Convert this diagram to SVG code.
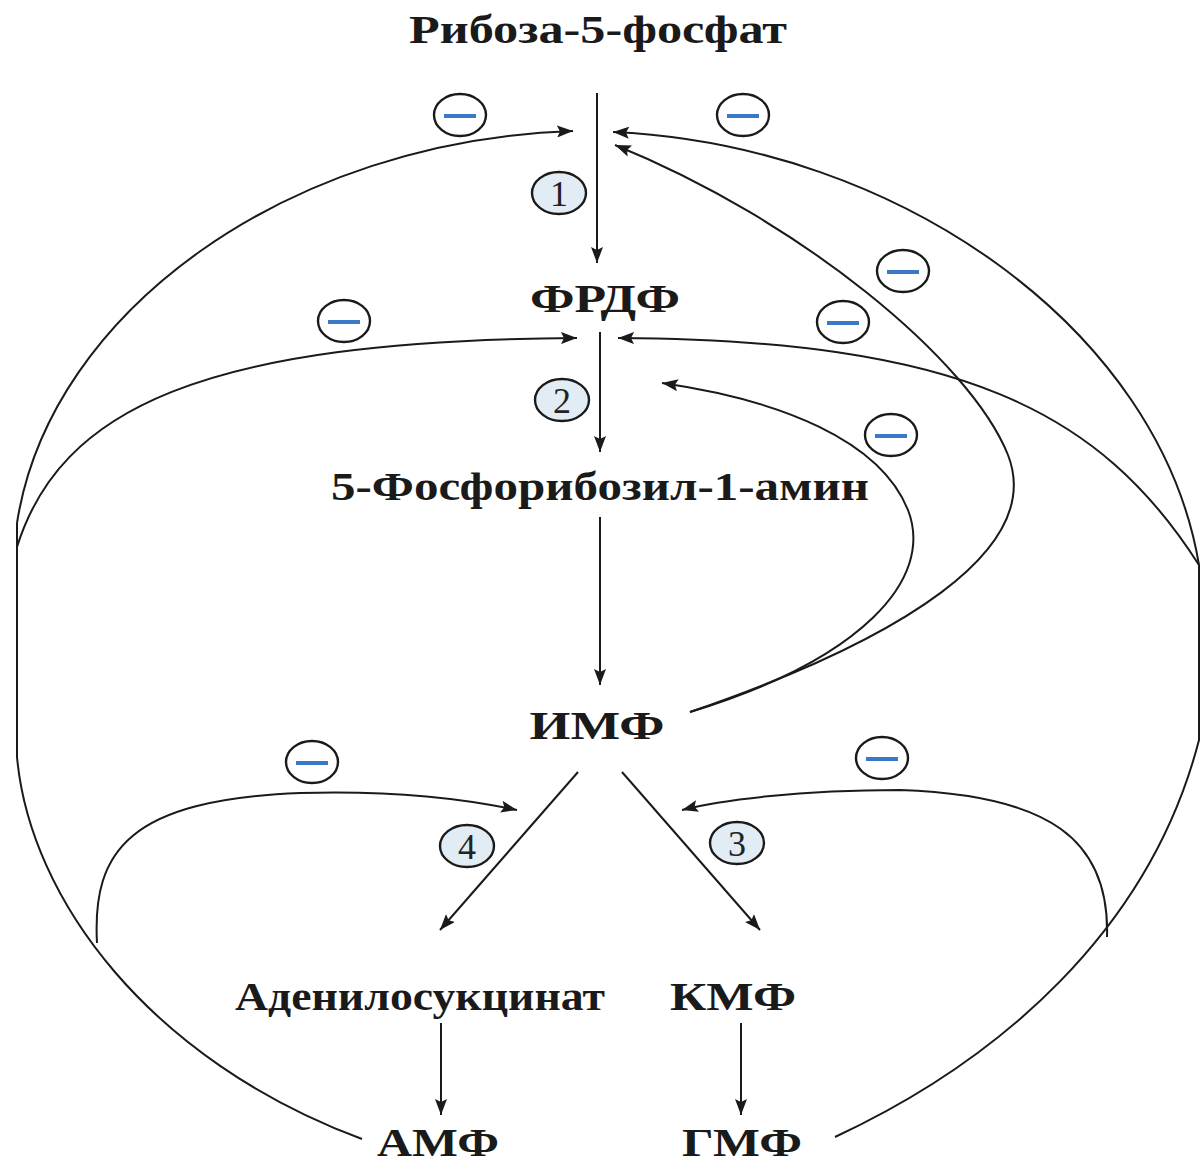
<svg xmlns="http://www.w3.org/2000/svg" width="1200" height="1166" viewBox="0 0 1200 1166">
<defs>
<marker id="ah" markerUnits="userSpaceOnUse" markerWidth="18" markerHeight="12" refX="16" refY="6" orient="auto">
<path d="M0,0 L16,6 L0,12 L3,6 z" fill="#1a1a1a"/>
</marker>
<style>
.lbl{font-family:"Liberation Serif","Times New Roman",serif;font-weight:bold;font-size:40px;fill:#1a1a1a;text-anchor:middle}
.num{font-family:"Liberation Serif","Times New Roman",serif;font-size:36px;fill:#222;text-anchor:middle}
.enz{fill:#e2ecf4;stroke:#1a1a1a;stroke-width:2.4}
.inh{fill:#ffffff;stroke:#1a1a1a;stroke-width:2.4}
.minus{stroke:#3a78c8;stroke-width:4}
.c{fill:none;stroke:#1a1a1a;stroke-width:2}
.ca{fill:none;stroke:#1a1a1a;stroke-width:2;marker-end:url(#ah)}
</style>
</defs>
<rect width="1200" height="1166" fill="#ffffff"/>

<g id="connectors">
<path class="ca" d="M597,93 L597,263"/>
<path class="ca" d="M600,332 L600,452"/>
<path class="ca" d="M600,517 L600,685"/>
<path class="ca" d="M578,772 L440,930"/>
<path class="ca" d="M622,772 L760,930"/>
<path class="ca" d="M441,1023 L441,1115"/>
<path class="ca" d="M741,1023 L741,1115"/>
<path class="c" d="M362,1139 C150,1060 30,900 17,757 L17,523"/>
<path class="ca" d="M17,523 C50,310 290,140 573,131"/>
<path class="ca" d="M17,547 C60,410 200,340 577,338"/>
<path class="ca" d="M97,943 C92,850 130,800 300,793 C400,790 470,800 517,810"/>
<path class="c" d="M835,1137 C1000,1060 1150,930 1199,740 L1199,565"/>
<path class="ca" d="M1199,565 C1160,330 900,145 613,132"/>
<path class="ca" d="M1199,565 C1100,410 960,340 618,338"/>
<path class="ca" d="M1107,937 C1110,840 1050,795 900,790 C800,790 720,800 682,810"/>
<path class="ca" d="M690,712 C900,640 1045,550 1008,455 C970,360 800,220 615,145"/>
<path class="ca" d="M690,712 C860,660 935,580 908,510 C880,440 780,400 662,383"/>
</g>

<g id="n-ribose"><text class="lbl" x="598" y="43" textLength="378" lengthAdjust="spacingAndGlyphs">Рибоза-5-фосфат</text></g>
<g id="n-frdf"><text class="lbl" x="605" y="312" textLength="150" lengthAdjust="spacingAndGlyphs">ФРДФ</text></g>
<g id="n-pra"><text class="lbl" x="600" y="500" textLength="538" lengthAdjust="spacingAndGlyphs">5-Фосфорибозил-1-амин</text></g>
<g id="n-imp"><text class="lbl" x="597" y="739" textLength="135" lengthAdjust="spacingAndGlyphs">ИМФ</text></g>
<g id="n-adsucc"><text class="lbl" x="420" y="1010" textLength="370" lengthAdjust="spacingAndGlyphs">Аденилосукцинат</text></g>
<g id="n-xmp"><text class="lbl" x="733" y="1010" textLength="126" lengthAdjust="spacingAndGlyphs">КМФ</text></g>
<g id="n-amp"><text class="lbl" x="438" y="1156" textLength="122" lengthAdjust="spacingAndGlyphs">АМФ</text></g>
<g id="n-gmp"><text class="lbl" x="742" y="1156" textLength="120" lengthAdjust="spacingAndGlyphs">ГМФ</text></g>

<g id="enzyme-1"><ellipse class="enz" cx="559" cy="193" rx="27" ry="21"/><text class="num" x="559" y="206">1</text></g>
<g id="enzyme-2"><ellipse class="enz" cx="562" cy="400" rx="27" ry="21"/><text class="num" x="562" y="413">2</text></g>
<g id="enzyme-3"><ellipse class="enz" cx="737" cy="843" rx="27" ry="21"/><text class="num" x="737" y="856">3</text></g>
<g id="enzyme-4"><ellipse class="enz" cx="467" cy="846" rx="27" ry="21"/><text class="num" x="467" y="859">4</text></g>

<g id="inh-1"><ellipse class="inh" cx="460" cy="115" rx="26" ry="21"/><line class="minus" x1="444" y1="116" x2="476" y2="116"/></g>
<g id="inh-2"><ellipse class="inh" cx="743" cy="115" rx="26" ry="21"/><line class="minus" x1="727" y1="116" x2="759" y2="116"/></g>
<g id="inh-3"><ellipse class="inh" cx="903" cy="271" rx="26" ry="21"/><line class="minus" x1="887" y1="272" x2="919" y2="272"/></g>
<g id="inh-4"><ellipse class="inh" cx="843" cy="322" rx="26" ry="21"/><line class="minus" x1="827" y1="323" x2="859" y2="323"/></g>
<g id="inh-5"><ellipse class="inh" cx="344" cy="321" rx="26" ry="21"/><line class="minus" x1="328" y1="322" x2="360" y2="322"/></g>
<g id="inh-6"><ellipse class="inh" cx="891" cy="435" rx="26" ry="21"/><line class="minus" x1="875" y1="436" x2="907" y2="436"/></g>
<g id="inh-7"><ellipse class="inh" cx="312" cy="762" rx="26" ry="21"/><line class="minus" x1="296" y1="763" x2="328" y2="763"/></g>
<g id="inh-8"><ellipse class="inh" cx="882" cy="758" rx="26" ry="21"/><line class="minus" x1="866" y1="759" x2="898" y2="759"/></g>
</svg>
